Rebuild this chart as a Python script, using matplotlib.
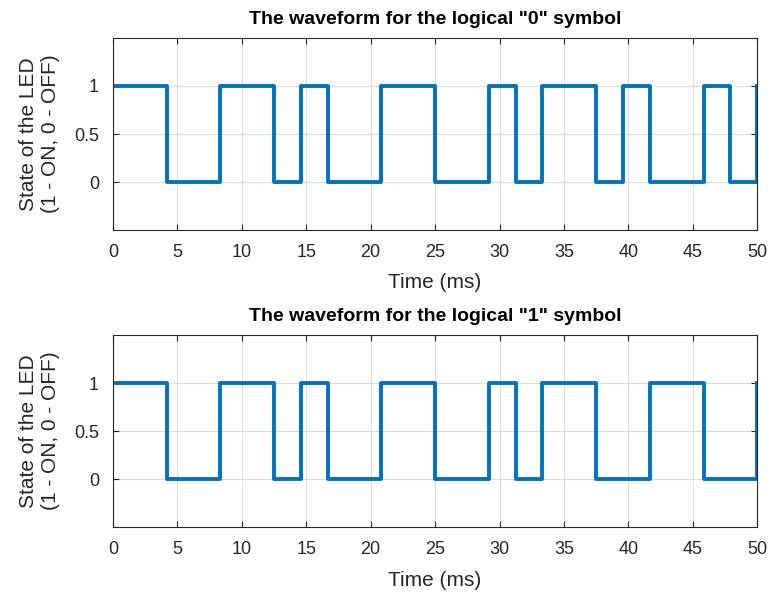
import numpy as np
import matplotlib
matplotlib.use('Agg')
import matplotlib.pyplot as plt

# transition times (ms) and LED state after each transition
t_edges0 = [0, 4.17, 8.33, 12.5, 14.58, 16.67, 20.83, 25, 29.17, 31.25,
            33.33, 37.5, 39.58, 41.67, 45.83, 47.92, 50]
state0 = [1, 0, 1, 0, 1, 0, 1, 0, 1, 0, 1, 0, 1, 0, 1, 0, 1]

t_edges1 = [0, 4.17, 8.33, 12.5, 14.58, 16.67, 20.83, 25, 29.17, 31.25,
            33.33, 37.5, 41.67, 45.83, 50]
state1 = [1, 0, 1, 0, 1, 0, 1, 0, 1, 0, 1, 0, 1, 0, 1]

titles = ['The waveform for the logical "0" symbol',
          'The waveform for the logical "1" symbol']

plt.rcParams['font.family'] = ['Liberation Sans', 'DejaVu Sans']

fig = plt.figure(figsize=(7.68, 5.93), dpi=100)
ax_top = fig.add_axes([0.147, 0.612, 0.839, 0.324])
ax_bot = fig.add_axes([0.147, 0.111, 0.839, 0.324])

for ax, t, s, title in [(ax_top, t_edges0, state0, titles[0]),
                        (ax_bot, t_edges1, state1, titles[1])]:
    ax.plot(t, s, drawstyle='steps-post', color='#0072BD', linewidth=2.8)
    ax.set_xlim(0, 50)
    ax.set_ylim(-0.5, 1.5)
    ax.set_xticks(np.arange(0, 51, 5))
    ax.set_yticks([0, 0.5, 1])
    ax.set_yticklabels(['0', '0.5', '1'])
    ax.grid(True, color='#dcdcdc', linewidth=0.8)
    ax.set_axisbelow(True)
    ax.tick_params(direction='in', top=True, right=True, labelsize=13,
                   colors='#262626', length=4, pad=10)
    for sp in ax.spines.values():
        sp.set_color('#262626')
        sp.set_linewidth(0.8)
    ax.set_title(title, fontsize=14, fontweight='bold', pad=10)
    ax.set_xlabel('Time (ms)', fontsize=15, color='#262626', labelpad=9)
    ax.set_ylabel('State of the LED\n(1 - ON, 0 - OFF)', fontsize=15,
                  color='#262626', labelpad=10)

fig.savefig('out.png', dpi=100)
